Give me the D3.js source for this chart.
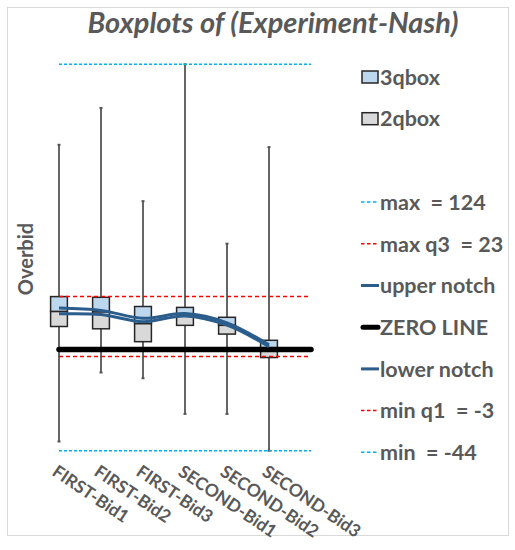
<!DOCTYPE html>
<html lang="en">
<head>
<meta charset="UTF-8">
<title>Boxplots of (Experiment-Nash)</title>
<script src="https://d3js.org/d3.v7.min.js"></script>
<style>
  body { margin: 0; background: #fff; }
  svg { font-family: Lato, "Open Sans", sans-serif; }
  .lbl { fill: #595959; font-weight: bold; }
</style>
</head>
<body>
<script>
// data
const categories = ["FIRST-Bid1", "FIRST-Bid2", "FIRST-Bid3", "SECOND-Bid1", "SECOND-Bid2", "SECOND-Bid3"];
const maxVals = [89, 105, 64.5, 124, 46, 88];
const minVals = [-40, -10, -12.5, -28, -28, -44];
const q3Vals = [23, 22.7, 18.7, 18.3, 14, 4];
const medVals = [16.5, 16.3, 11.2, 15.5, 10.5, 0.3];
const q1Vals = [10, 9, 3.4, 10.5, 6.7, -3.5];
const upperNotch = [18, 17, 13.6, 15.6, 11.6, 2];
const lowerNotch = [15.5, 15.2, 12.1, 14.6, 10.6, 1.2];
// reference levels
const refMax = 124, refMaxQ3 = 23, refMinQ1 = -3, refMin = -44, refZero = 0;
const legendLabels = ["3qbox", "2qbox", null, "max  = 124", "max q3  = 23", "upper notch", "ZERO LINE", "lower notch", "min q1  = -3", "min  = -44"];
const legendKinds = ["box3", "box2", null, "cyan", "red", "notch", "zero", "notch", "red", "cyan"];

const W = 515, H = 550;
const blue = "#bdd7ee", gray = "#d9d9d9", notchCol = "#2b5d8c";

const svg = d3.select("body").append("svg")
    .attr("width", W)
    .attr("height", H);

// chart frame
svg.append("rect")
    .attr("x", 7.5).attr("y", 7.5)
    .attr("width", 501).attr("height", 528)
    .attr("fill", "#fff")
    .attr("stroke", "#d9d9d9");

svg.append("text")
    .attr("class", "lbl")
    .attr("x", 273).attr("y", 33)
    .attr("text-anchor", "middle")
    .style("font-size", "29px")
    .style("font-style", "italic")
    .text("Boxplots of (Experiment-Nash)");

// 6 categories + one empty slot the reference lines run to
const x = d3.scaleBand()
    .domain(d3.range(categories.length + 1))
    .range([38, 332]);
const cx = (i) => x(i) + x.bandwidth() / 2;
const boxW = x.bandwidth() * 0.4;

const y = d3.scaleLinear()
    .domain([-45, 125])
    .range([453, 62]);

svg.append("text")
    .attr("class", "lbl")
    .attr("transform", "translate(33,259) rotate(-90)")
    .attr("text-anchor", "middle")
    .style("font-size", "20px")
    .text("Overbid");

const idx = d3.range(categories.length);

// whiskers
svg.append("g").selectAll("line")
    .data(idx)
    .join("line")
    .attr("x1", cx).attr("x2", cx)
    .attr("y1", (i) => y(maxVals[i]))
    .attr("y2", (i) => y(minVals[i]))
    .attr("stroke", "#666")
    .attr("stroke-width", 2);

const caps = svg.append("g");
[maxVals, minVals].forEach((arr) => {
    caps.selectAll(null)
        .data(idx)
        .join("line")
        .attr("x1", (i) => cx(i) - 1.5).attr("x2", (i) => cx(i) + 1.5)
        .attr("y1", (i) => y(arr[i])).attr("y2", (i) => y(arr[i]))
        .attr("stroke", "#555")
        .attr("stroke-width", 2);
});

// boxes: upper part (q3..median) blue, lower (median..q1) gray
const boxes = svg.append("g");
boxes.selectAll(".b3")
    .data(idx)
    .join("rect")
    .attr("class", "b3")
    .attr("x", (i) => cx(i) - boxW / 2)
    .attr("width", boxW)
    .attr("y", (i) => y(q3Vals[i]))
    .attr("height", (i) => y(medVals[i]) - y(q3Vals[i]))
    .attr("fill", blue)
    .attr("stroke", "#262626")
    .attr("stroke-width", 1.5);
boxes.selectAll(".b2")
    .data(idx)
    .join("rect")
    .attr("class", "b2")
    .attr("x", (i) => cx(i) - boxW / 2)
    .attr("width", boxW)
    .attr("y", (i) => y(medVals[i]))
    .attr("height", (i) => y(q1Vals[i]) - y(medVals[i]))
    .attr("fill", gray)
    .attr("stroke", "#262626")
    .attr("stroke-width", 1.5);

// horizontal reference lines
const x0 = cx(0), x1 = cx(categories.length);
const refs = [
    { v: refMax, c: "#00b0f0", dash: "3,2" },
    { v: refMaxQ3, c: "#ff0000", dash: "4,3" },
    { v: refMinQ1, c: "#ff0000", dash: "4,3" },
    { v: refMin, c: "#00b0f0", dash: "3,2" }
];
svg.append("g").selectAll("line")
    .data(refs)
    .join("line")
    .attr("x1", x0).attr("x2", x1)
    .attr("y1", (d) => y(d.v)).attr("y2", (d) => y(d.v))
    .attr("stroke", (d) => d.c)
    .attr("stroke-width", 1.5)
    .attr("stroke-dasharray", (d) => d.dash);

svg.append("line")
    .attr("x1", x0).attr("x2", x1)
    .attr("y1", y(refZero)).attr("y2", y(refZero))
    .attr("stroke", "#000")
    .attr("stroke-width", 5.5)
    .attr("stroke-linecap", "round");

// notch lines
const notchLine = d3.line()
    .x((d, i) => cx(i))
    .y((d) => y(d))
    .curve(d3.curveCatmullRom);
[upperNotch, lowerNotch].forEach((arr) => {
    svg.append("path")
        .attr("d", notchLine(arr))
        .attr("fill", "none")
        .attr("stroke", notchCol)
        .attr("stroke-width", 3);
});

// category labels
svg.append("g").selectAll("text")
    .data(categories)
    .join("text")
    .attr("class", "lbl")
    .attr("transform", (d, i) => "translate(" + (cx(i) - 1) + ",464) rotate(34)")
    .attr("dy", "0.72em")
    .style("font-size", "17.5px")
    .text((d) => d);

// legend
const leg = svg.append("g").attr("transform", "translate(361,0)");
const items = leg.selectAll("g")
    .data(legendLabels.map((l, k) => ({ l: l, k: k, kind: legendKinds[k] })).filter((d) => d.l))
    .join("g")
    .attr("transform", (d) => "translate(0," + (77 + 41.7 * d.k) + ")");

items.filter((d) => d.kind === "box3" || d.kind === "box2")
    .append("rect")
    .attr("x", 1).attr("y", -6)
    .attr("width", 16).attr("height", 12)
    .attr("fill", (d) => d.kind === "box3" ? blue : gray)
    .attr("stroke", "#262626")
    .attr("stroke-width", 1.5);

items.filter((d) => d.kind !== "box3" && d.kind !== "box2")
    .append("line")
    .attr("x1", (d) => d.kind === "zero" ? 2 : 0)
    .attr("x2", (d) => d.kind === "zero" ? 17 : 18)
    .attr("stroke", (d) => d.kind === "cyan" ? "#00b0f0" : d.kind === "red" ? "#ff0000" : d.kind === "zero" ? "#000" : notchCol)
    .attr("stroke-width", (d) => d.kind === "zero" ? 5 : d.kind === "notch" ? 3 : 1.5)
    .attr("stroke-linecap", (d) => d.kind === "zero" ? "round" : "butt")
    .attr("stroke-dasharray", (d) => (d.kind === "cyan" || d.kind === "red") ? "3.5,2.5" : null);

items.append("text")
    .attr("class", "lbl")
    .attr("x", 19)
    .attr("dy", "0.36em")
    .style("font-size", "21.5px")
    .style("white-space", "pre")
    .text((d) => d.l);
</script>
</body>
</html>
